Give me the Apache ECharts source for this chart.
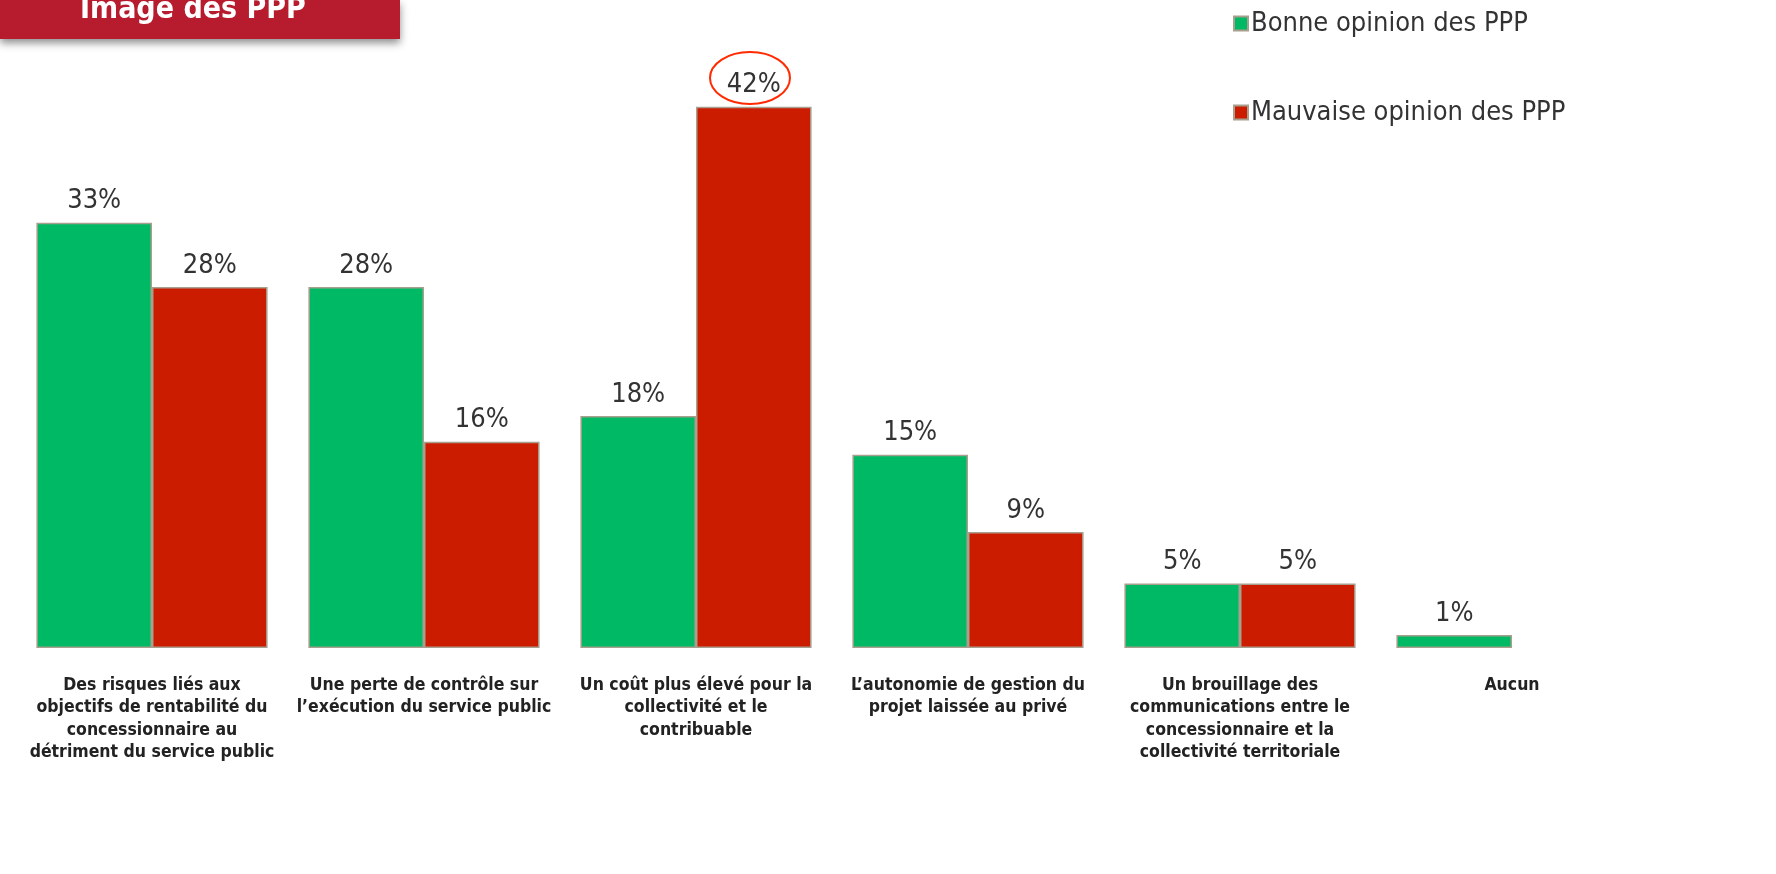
<!DOCTYPE html>
<html>
<head>
<meta charset="utf-8">
<script src="https://cdn.jsdelivr.net/npm/echarts@6/dist/echarts.min.js"></script>
<style>html,body{margin:0;padding:0;background:#fff;}#c{width:1776px;height:874px;}</style>
</head>
<body>
<div id="c"></div>
<script>
const categories = [
  "Des risques liés aux\nobjectifs de rentabilité du\nconcessionnaire au\ndétriment du service public",
  "Une perte de contrôle sur\nl’exécution du service public",
  "Un coût plus élevé pour la\ncollectivité et le\ncontribuable",
  "L’autonomie de gestion du\nprojet laissée au privé",
  "Un brouillage des\ncommunications entre le\nconcessionnaire et la\ncollectivité territoriale",
  "Aucun"
];
const bonneOpinion = [33, 28, 18, 15, 5, 1];
const mauvaiseOpinion = [28, 16, 42, 9, 5, null];
const seriesNames = ["Bonne opinion des PPP", "Mauvaise opinion des PPP"];
const titleText = "Image des PPP";

const chart = echarts.init(document.getElementById('c'));
const labelStyle = {
  show: true, position: 'top', distance: 8,
  fontFamily: '"DejaVu Sans Condensed", sans-serif', fontSize: 27, color: '#333333',
  formatter: p => p.value + '%'
};
chart.setOption({
  animation: false,
  backgroundColor: '#ffffff',
  grid: { left: 16, right: 128, top: 68, bottom: 226, containLabel: false },
  legend: {
    orient: 'vertical', left: 1228, top: 5, itemGap: 62,
    itemWidth: 14, itemHeight: 14, icon: 'rect',
    textStyle: { fontFamily: '"DejaVu Sans Condensed"', fontSize: 27, color: '#333333', padding: [0,0,0,-2] },
    data: seriesNames
  },
  xAxis: {
    type: 'category', data: categories,
    axisLine: { show: false }, axisTick: { show: false },
    axisLabel: { interval: 0, margin: 26, fontFamily: '"DejaVu Sans Condensed"', fontWeight: 'bold', fontSize: 17.5, color: '#222222', lineHeight: 22.5, align: 'center' }
  },
  yAxis: { type: 'value', min: 0, max: 45, show: false, splitLine: { show: false } },
  series: [
    { name: seriesNames[0], type: 'bar', data: bonneOpinion, barGap: '0%', barCategoryGap: '15%',
      itemStyle: { color: '#00B964', borderColor: '#A89F8E', borderWidth: 1.5 }, label: labelStyle },
    { name: seriesNames[1], type: 'bar', data: mauvaiseOpinion,
      itemStyle: { color: '#CC1C00', borderColor: '#A89F8E', borderWidth: 1.5 }, label: labelStyle }
  ],
  graphic: [
    { type: 'rect', left: 0, top: 0, shape: { width: 400, height: 39 },
      style: { fill: '#B71C2E', shadowBlur: 8, shadowOffsetY: 4, shadowColor: 'rgba(0,0,0,0.45)' } },
    { type: 'text', left: 80, top: -5, style: { text: titleText, fill: '#ffffff', font: 'bold 30px "DejaVu Sans Condensed"' } },
    { type: 'ellipse', shape: { cx: 750, cy: 78, rx: 40, ry: 26 }, style: { fill: 'none', stroke: '#FF2A00', lineWidth: 2 }, z: 10 }
  ]
});
</script>
</body>
</html>
